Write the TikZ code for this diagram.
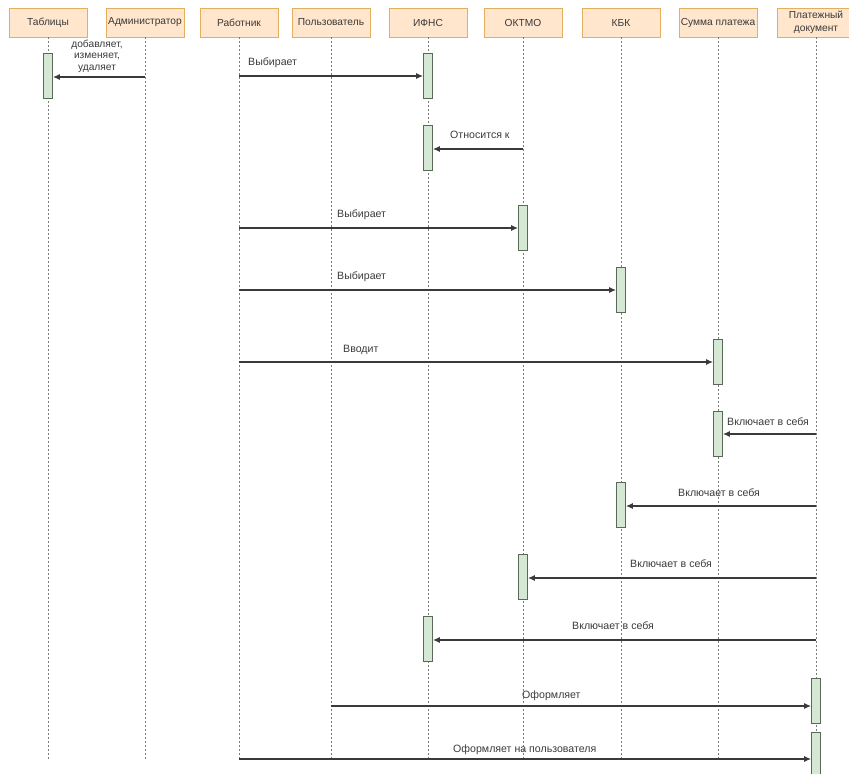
\documentclass[tikz,border=0pt]{standalone}
\usepackage{fontspec}
\setmainfont{Liberation Sans}
\usetikzlibrary{arrows.meta}
\definecolor{hdrfill}{HTML}{FFE6CC}
\definecolor{hdrdraw}{HTML}{E3AE5E}
\definecolor{actfill}{HTML}{D5E8D4}
\definecolor{actdraw}{HTML}{5A6A58}
\definecolor{txt}{HTML}{3A3A3A}
\definecolor{lline}{HTML}{7A7A7A}
\begin{document}
\begin{tikzpicture}[x=1pt,y=-1pt,
 hdr/.style={draw=hdrdraw,fill=hdrfill,line width=0.8pt,minimum width=78pt,minimum height=29pt,inner sep=1pt,font=\fontsize{10.2}{12.5}\selectfont,text=txt,align=center},
 act/.style={draw=actdraw,fill=actfill,line width=0.8pt,minimum width=9pt,minimum height=45pt,inner sep=0pt},
 life/.style={draw=lline,dash pattern=on 2pt off 2pt,line width=0.6pt},
 msg/.style={draw=txt,line width=1.2pt,-{Latex[length=7pt,width=6pt]}},
 lbl/.style={font=\fontsize{10.6}{11}\selectfont,text=txt,inner sep=0pt,anchor=west}]
\useasboundingbox (0,0) rectangle (849,774);
% headers
\node[hdr] (h1) at (48,22.5) {Таблицы};
\node[hdr] (h2) at (145,22.5) {Администратор};
\node[hdr] (h3) at (239,22.5) {Работник};
\node[hdr] (h4) at (331,22.5) {Пользователь};
\node[hdr] (h5) at (428,22.5) {ИФНС};
\node[hdr] (h6) at (523,22.5) {ОКТМО};
\node[hdr] (h7) at (621,22.5) {КБК};
\node[hdr] (h8) at (718,22.5) {Сумма платежа};
\node[hdr] (h9) at (816,22.5) {Платежный\\документ};
% lifelines
\foreach \h/\e in {h1/760,h2/760,h3/759,h4/760,h5/760,h6/760,h7/760,h8/760,h9/774}{
  \draw[life] (\h.south) -- (\h.south |- 0,\e);
}
% activations
\node[act] (a1) at (48,76) {};
\node[act] (a2) at (428,76) {};
\node[act] (a3) at (428,148) {};
\node[act] (a4) at (523,228) {};
\node[act] (a5) at (621,290) {};
\node[act] (a6) at (718,362) {};
\node[act] (a7) at (718,433.5) {};
\node[act] (a8) at (621,505) {};
\node[act] (a9) at (523,577) {};
\node[act] (a10) at (428,639) {};
\node[act] (a11) at (816,701) {};
\node[act] (a12) at (816,754.5) {};
% message start points on lifelines
\coordinate (s1) at (h2.south |- 0,77);
\coordinate (s2) at (h3.south |- 0,76);
\coordinate (s3) at (h6.south |- 0,149);
\coordinate (s4) at (h3.south |- 0,228);
\coordinate (s5) at (h3.south |- 0,290);
\coordinate (s6) at (h3.south |- 0,362);
\coordinate (s7) at (h9.south |- 0,434);
\coordinate (s8) at (h9.south |- 0,506);
\coordinate (s9) at (h9.south |- 0,578);
\coordinate (s10) at (h9.south |- 0,640);
\coordinate (s11) at (h4.south |- 0,706);
\coordinate (s12) at (h3.south |- 0,759);
% messages
\draw[msg] (s1) -- (s1 -| a1.east);
\draw[msg] (s2) -- (s2 -| a2.west);
\draw[msg] (s3) -- (s3 -| a3.east);
\draw[msg] (s4) -- (s4 -| a4.west);
\draw[msg] (s5) -- (s5 -| a5.west);
\draw[msg] (s6) -- (s6 -| a6.west);
\draw[msg] (s7) -- (s7 -| a7.east);
\draw[msg] (s8) -- (s8 -| a8.east);
\draw[msg] (s9) -- (s9 -| a9.east);
\draw[msg] (s10) -- (s10 -| a10.east);
\draw[msg] (s11) -- (s11 -| a11.west);
\draw[msg] (s12) -- (s12 -| a12.west);
% labels
\node[lbl,anchor=center,align=center,font=\fontsize{10.2}{11.5}\selectfont] (t1) at (97,56) {добавляет,\\изменяет,\\удаляет};
\node[lbl] (t2) at (248,63) {Выбирает};
\node[lbl] (t3) at (450,135) {Относится к};
\node[lbl] (t4) at (337,215) {Выбирает};
\node[lbl] (t5) at (337,277) {Выбирает};
\node[lbl] (t6) at (343,350) {Вводит};
\node[lbl] (t7) at (727,422) {Включает в себя};
\node[lbl] (t8) at (678,493) {Включает в себя};
\node[lbl] (t9) at (630,564) {Включает в себя};
\node[lbl] (t10) at (572,626) {Включает в себя};
\node[lbl] (t11) at (522,696) {Оформляет};
\node[lbl] (t12) at (453,750) {Оформляет на пользователя};
\end{tikzpicture}
\end{document}
